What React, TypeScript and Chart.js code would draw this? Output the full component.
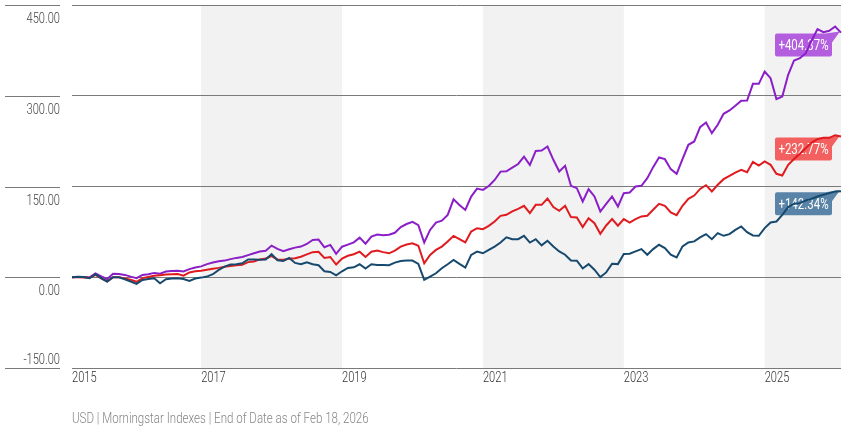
import React, { useEffect, useRef } from 'react';
import { Chart, registerables } from 'chart.js';

Chart.register(...registerables);

// ---- data (monthly, Mar 2015 .. Feb 2026, cumulative % return) ----
const START_YEAR = 2015;
const START_MONTH = 2; // 0-based: March

const purpleValues = [
  0, 0.5, 0.3, -0.3, 6.3, 1.4, -3, 5.8, 5.5, 3.9,
  1, -1.4, 3.9, 5, 7.2, 6, 9.5, 10.5, 10.8, 9.5,
  13.4, 16, 18, 21.7, 24.4, 26.5, 27.5, 30, 32, 33.5,
  36.5, 39.7, 42.5, 43.8, 52.3, 47, 43, 46.3, 49, 50.7,
  55, 61.7, 62.2, 49.6, 53.5, 38.6, 50.5, 54, 57.7, 65.5,
  55.5, 67.3, 70.6, 69.5, 70.2, 73.5, 83, 88, 91.7, 86,
  57.5, 78.2, 90.3, 93.6, 103, 128.8, 119.5, 111.3, 133.3, 146.5,
  144.3, 150.9, 160.8, 174.6, 175.2, 181.2, 187.2, 199.4, 185.6, 208.7,
  209.5, 216.1, 194.1, 174.8, 184.2, 151.1, 147.2, 125.2, 145.6, 133.5,
  108.7, 121.3, 133.5, 117, 139, 140.1, 150, 151.1, 163.8, 182,
  198, 195.2, 178.7, 171, 195.2, 218.9, 224.4, 248, 255.8, 238.2,
  252, 270.2, 275.7, 283.4, 291.6, 292.2, 319.7, 319.7, 340.1, 329.1,
  294.4, 298.8, 334.6, 358.3, 362.1, 370.4, 391.4, 410.1, 405.1, 407.3,
  414.5, 404.37,
];

const redValues = [
  0, 0, -0.5, -1, 3.9, -2, -7, 0, 0, -2,
  -4, -7.5, -1.4, 0.5, 2.5, 3.5, 4.7, 5, 5.2, 2.5,
  8, 10, 10.8, 12.5, 14.1, 15.5, 17.5, 18.5, 20, 20.5,
  25, 26, 29.5, 31, 35, 29.5, 29, 30.5, 31.5, 34,
  37.8, 41.5, 42, 32, 33.5, 21, 31, 35.5, 38, 42.3,
  33.5, 42.3, 44, 41.5, 39.6, 44, 50.7, 54, 56, 52,
  23.1, 36.9, 45.2, 50.7, 59, 68.4, 62.9, 57.5, 75.6, 81.1,
  79.5, 85, 92.2, 101.5, 103.2, 109, 113.1, 118.1, 106, 119.7,
  119.7, 130.2, 115.9, 109.8, 118.1, 99.4, 98.8, 82.9, 97.7, 89.4,
  71.8, 85.6, 96.1, 85.1, 96.1, 90.5, 96.1, 100.5, 101.6, 111.5,
  121.4, 118.1, 107.1, 102.7, 118.1, 129.7, 135, 146, 152.2, 141.8,
  152.8, 162.1, 167.6, 173.1, 177.5, 173.7, 190.8, 184.7, 191.4, 185.9,
  171, 168.2, 185.9, 195.3, 204, 213.4, 222.7, 228.2, 230.5, 230.5,
  234.8, 232.77,
];

const blueValues = [
  0, 1, 0.5, -1.7, 5, -1.7, -7, 0, 0, -3.3,
  -7, -11, -4.4, -3, -1.7, -10, -3.3, -2, -1.7, -2.8,
  -6, -2, -0.6, 1.1, 5, 12.1, 17.6, 21, 21.5, 23,
  29.5, 29.2, 29, 29.2, 38, 28.1, 27, 32, 23.7, 21.5,
  24.8, 21.5, 19.8, 9.9, 8.8, 3.3, 9.9, 15.4, 16.5, 21.5,
  14.3, 21.5, 20.4, 20.4, 19.8, 24.2, 27, 27.5, 27.5, 22,
  -4.4, 1.1, 6.6, 14.9, 21.5, 28.6, 22, 16, 37, 42.5,
  39.6, 45.2, 50.7, 57.3, 66.1, 62.9, 62.9, 68.4, 57.3, 62.9,
  52.7, 60.4, 51, 42.7, 37.2, 27.8, 27.3, 14.5, 21.7, 12.4,
  0.3, 8, 22.3, 21.7, 38.3, 38.8, 42.7, 46.5, 37.2, 46.5,
  53.7, 48.2, 37.2, 32.8, 51, 57.6, 59.3, 66, 71.3, 63,
  72.9, 68.5, 71.3, 78.4, 83.9, 74.6, 69.1, 68.5, 81.2, 90.5,
  92.2, 103.2, 115.9, 121.4, 122.5, 126.9, 129.7, 133.5, 136.3, 139,
  141.8, 142.34,
];

const endLabels = ['+142.34%', '+232.77%', '+404.37%'];
const yTickValues = [-150, 0, 150, 300, 450];
const xTickYears = [2015, 2017, 2019, 2021, 2023, 2025];
const shadedYearRanges = [
  [2017, 2019],
  [2021, 2023],
  [2025, 2027],
];
const footerText = 'USD | Morningstar Indexes | End of Date as of Feb 18, 2026';

const MONTH_NAMES = ['Jan', 'Feb', 'Mar', 'Apr', 'May', 'Jun', 'Jul', 'Aug', 'Sep', 'Oct', 'Nov', 'Dec'];
const monthLabels: string[] = purpleValues.map((_, i) => {
  const m = START_MONTH + i;
  return `${MONTH_NAMES[m % 12]} ${START_YEAR + Math.floor(m / 12)}`;
});

const FONT = "Roboto, 'Liberation Sans', sans-serif";
const SQUEEZE = 0.74;
const GRID = '#7a7a7a';
const lineColors = ['#17496e', '#e01b1f', '#8a1fc8'];
const badgeColors = ['#5a83a8', '#f2605f', '#b35ddf'];

const indexOfJan = (year: number) => monthLabels.indexOf(`Jan ${year}`);

// draws horizontally condensed text (the reference uses a condensed face)
function condensedText(
  ctx: CanvasRenderingContext2D,
  text: string,
  x: number,
  y: number,
  align: CanvasTextAlign,
  squeeze: number = SQUEEZE,
) {
  ctx.save();
  ctx.translate(x, y);
  ctx.scale(squeeze, 1);
  ctx.textAlign = align;
  ctx.fillText(text, 0, 0);
  ctx.restore();
}

const bandsPlugin = {
  id: 'bands',
  beforeDraw(chart: any) {
    const { ctx, chartArea, scales } = chart;
    const x = scales.x;
    ctx.save();
    ctx.fillStyle = '#f2f2f2';
    shadedYearRanges.forEach(([a, b]) => {
      const ia = indexOfJan(a);
      const ib = indexOfJan(b);
      const x0 = ia >= 0 ? x.getPixelForValue(ia) : chartArea.left;
      const x1 = ib >= 0 ? x.getPixelForValue(ib) : chartArea.right;
      ctx.fillRect(x0, chartArea.top, x1 - x0, chartArea.bottom - chartArea.top);
    });
    ctx.restore();
  },
};

const textPlugin = {
  id: 'axisText',
  afterDraw(chart: any) {
    const { ctx, scales, chartArea } = chart;
    const y = scales.y;
    const x = scales.x;
    ctx.save();
    ctx.strokeStyle = GRID;
    ctx.lineWidth = 1;
    ctx.textBaseline = 'alphabetic';
    // y labels + short left rules
    ctx.fillStyle = '#444444';
    ctx.font = `300 15px ${FONT}`;
    yTickValues.forEach((v) => {
      const py = Math.round(y.getPixelForValue(v)) + 0.5;
      ctx.beginPath();
      ctx.moveTo(5, py);
      ctx.lineTo(60, py);
      ctx.stroke();
      const isMin = v === yTickValues[0];
      condensedText(ctx, v.toFixed(2), 60, isMin ? py - 5 : py + 17, 'right');
    });
    // x labels
    ctx.fillStyle = '#333333';
    xTickYears.forEach((yr, k) => {
      const idx = k === 0 ? 0 : indexOfJan(yr);
      if (idx < 0) return;
      const px = x.getPixelForValue(idx);
      condensedText(ctx, String(yr), px, chartArea.bottom + 14, 'left');
    });
    // footer
    ctx.fillStyle = '#858585';
    ctx.font = `300 15px ${FONT}`;
    condensedText(ctx, footerText, chartArea.left, chartArea.bottom + 55, 'left', 0.77);
    ctx.restore();
  },
};

const badgePlugin = {
  id: 'badges',
  beforeDatasetsDraw(chart: any) {
    const { ctx, chartArea } = chart;
    ctx.save();
    ctx.font = `15.5px ${FONT}`;
    chart.data.datasets.forEach((_: any, di: number) => {
      const meta = chart.getDatasetMeta(di);
      const last = meta.data[meta.data.length - 1];
      const px = last.x;
      const py = last.y;
      const text = endLabels[di];
      const w = 57;
      const h = 23;
      const right = chartArea.right - 9;
      const left = right - w;
      const top = py + 1;
      const r = 2;
      ctx.fillStyle = badgeColors[di];
      ctx.beginPath();
      ctx.moveTo(left + r, top);
      ctx.lineTo(right - 7, top);
      ctx.lineTo(px - 1, py - 1);
      ctx.lineTo(right, top + 9);
      ctx.lineTo(right, top + h - r);
      ctx.quadraticCurveTo(right, top + h, right - r, top + h);
      ctx.lineTo(left + r, top + h);
      ctx.quadraticCurveTo(left, top + h, left, top + h - r);
      ctx.lineTo(left, top + r);
      ctx.quadraticCurveTo(left, top, left + r, top);
      ctx.closePath();
      ctx.fill();
      ctx.fillStyle = '#ffffff';
      ctx.textBaseline = 'middle';
      condensedText(ctx, text, left + w / 2, top + h / 2 + 1, 'center');
    });
    ctx.restore();
  },
};

export default function App() {
  const canvasRef = useRef<HTMLCanvasElement | null>(null);

  useEffect(() => {
    document.body.style.margin = '0';
    const canvas = canvasRef.current;
    if (!canvas) return;
    const chart = new Chart(canvas, {
      type: 'line',
      data: {
        labels: monthLabels,
        datasets: [
          { label: 'Index C', data: blueValues, borderColor: lineColors[0] },
          { label: 'Index B', data: redValues, borderColor: lineColors[1] },
          { label: 'Index A', data: purpleValues, borderColor: lineColors[2] },
        ].map((d) => ({ ...d, borderWidth: 2, pointRadius: 0, tension: 0, fill: false })),
      },
      options: {
        animation: false,
        responsive: true,
        maintainAspectRatio: false,
        layout: { padding: { left: 72, right: 5, top: 5, bottom: 0 } },
        plugins: { legend: { display: false }, tooltip: { enabled: false }, title: { display: false } },
        scales: {
          x: {
            type: 'category',
            offset: false,
            grid: { display: false, drawTicks: false },
            border: { display: false },
            afterFit: (s: any) => {
              s.height = 69;
            },
            ticks: { display: false },
          },
          y: {
            min: yTickValues[0],
            max: yTickValues[yTickValues.length - 1],
            afterBuildTicks: (s: any) => {
              s.ticks = yTickValues.map((v) => ({ value: v }));
            },
            afterFit: (s: any) => {
              s.width = 0;
            },
            grid: { color: GRID, lineWidth: 1, drawTicks: false },
            border: { display: false },
            ticks: { display: false },
          },
        },
      },
      plugins: [bandsPlugin, textPlugin, badgePlugin],
    } as any);
    return () => chart.destroy();
  }, []);

  return (
    <div style={{ position: 'relative', width: 846, height: 437 }}>
      <canvas ref={canvasRef} aria-label={footerText} />
    </div>
  );
}
